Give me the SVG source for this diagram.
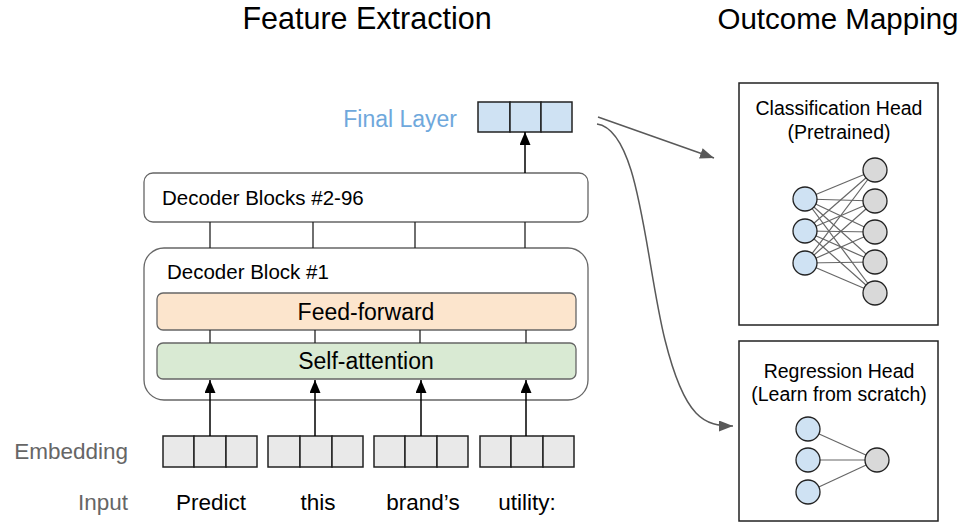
<svg xmlns="http://www.w3.org/2000/svg" width="971" height="523" viewBox="0 0 971 523">
<defs>
<style>
text{font-family:"Liberation Sans",Arial,sans-serif;fill:#000}
.title{text-anchor:middle}
.lbl{font-size:22.5px;fill:#666}
.blk{font-size:20.5px}
.mid{font-size:23px;text-anchor:middle}
.head{font-size:19.5px;text-anchor:middle}
.word{font-size:22.5px;text-anchor:middle}
.dec{fill:#fff;stroke:#666;stroke-width:1.3}
.cell{fill:#e9e9e9;stroke:#222;stroke-width:1.5}
.fcell{fill:#cfe2f3;stroke:#222;stroke-width:1.5}
.up{stroke:#000;stroke-width:1.5;fill:none}
.wire{stroke:#222;stroke-width:1.3}
.gw{stroke:#595959;stroke-width:1.5;fill:none}
.nn{stroke:#666;stroke-width:1.2}
.bn{fill:#cfe2f3;stroke:#222;stroke-width:1.3}
.gn{fill:#d9d9d9;stroke:#222;stroke-width:1.3}
.hbox{fill:#fff;stroke:#222;stroke-width:1.5}
</style>
<marker id="ah" markerUnits="userSpaceOnUse" markerWidth="14" markerHeight="12" refX="13" refY="5.5" orient="auto"><path d="M0,0 L13,5.5 L0,11 z" fill="#000"/></marker>
<marker id="gh" markerUnits="userSpaceOnUse" markerWidth="16" markerHeight="12" refX="14" refY="5.5" orient="auto"><path d="M0,0 L14,5.5 L0,11 z" fill="#595959"/></marker>
</defs>
<rect width="971" height="523" fill="#fff"/>

<text class="title" x="367" y="29" font-size="30.5">Feature Extraction</text>
<text class="title" x="838" y="29" font-size="29.5">Outcome Mapping</text>

<g id="final-layer">
<text x="457" y="127" font-size="23" style="fill:#6fa8dc;text-anchor:end">Final Layer</text>
<rect class="fcell" x="478" y="102" width="32" height="30"/>
<rect class="fcell" x="510" y="102" width="31" height="30"/>
<rect class="fcell" x="541" y="102" width="31" height="30"/>
</g>

<g id="decoder-blocks-2-96">
<rect class="dec" x="144" y="173" width="444" height="49" rx="9"/>
<text class="blk" x="162" y="205">Decoder Blocks #2-96</text>
</g>

<g id="decoder-block-1">
<rect class="dec" x="144" y="248" width="444" height="152" rx="20"/>
<text class="blk" x="167" y="279">Decoder Block #1</text>
</g>

<g id="feed-forward">
<rect x="157" y="293" width="419" height="37" rx="6" fill="#fce5cd" stroke="#666" stroke-width="1.3"/>
<text class="mid" x="366" y="320">Feed-forward</text>
</g>

<g id="self-attention">
<rect x="157" y="343" width="419" height="36" rx="6" fill="#d9ead3" stroke="#666" stroke-width="1.3"/>
<text class="mid" x="366" y="369">Self-attention</text>
</g>

<g id="embedding">
<text class="lbl" x="128" y="459" style="text-anchor:end">Embedding</text>
<rect class="cell" x="163" y="436" width="31" height="31"/><rect class="cell" x="194" y="436" width="32" height="31"/><rect class="cell" x="226" y="436" width="31" height="31"/>
<rect class="cell" x="268" y="436" width="32" height="31"/><rect class="cell" x="300" y="436" width="32" height="31"/><rect class="cell" x="332" y="436" width="31" height="31"/>
<rect class="cell" x="374" y="436" width="31" height="31"/><rect class="cell" x="405" y="436" width="32" height="31"/><rect class="cell" x="437" y="436" width="31" height="31"/>
<rect class="cell" x="480" y="436" width="31" height="31"/><rect class="cell" x="511" y="436" width="32" height="31"/><rect class="cell" x="543" y="436" width="31" height="31"/>
</g>

<g id="input">
<text class="lbl" x="128" y="510" style="text-anchor:end">Input</text>
<text class="word" x="211" y="510">Predict</text>
<text class="word" x="318" y="510">this</text>
<text class="word" x="423" y="510">brand’s</text>
<text class="word" x="527" y="510">utility:</text>
</g>

<g id="classification-head">
<rect class="hbox" x="739" y="83" width="199" height="242"/>
<text class="head" x="839" y="115">Classification Head</text>
<text class="head" x="839" y="139">(Pretrained)</text>
<g class="nn">
<line x1="805" y1="199" x2="875" y2="170"/><line x1="805" y1="199" x2="875" y2="201"/><line x1="805" y1="199" x2="875" y2="232"/><line x1="805" y1="199" x2="875" y2="262"/><line x1="805" y1="199" x2="875" y2="293"/>
<line x1="805" y1="231" x2="875" y2="170"/><line x1="805" y1="231" x2="875" y2="201"/><line x1="805" y1="231" x2="875" y2="232"/><line x1="805" y1="231" x2="875" y2="262"/><line x1="805" y1="231" x2="875" y2="293"/>
<line x1="805" y1="263" x2="875" y2="170"/><line x1="805" y1="263" x2="875" y2="201"/><line x1="805" y1="263" x2="875" y2="232"/><line x1="805" y1="263" x2="875" y2="262"/><line x1="805" y1="263" x2="875" y2="293"/>
</g>
<circle class="bn" cx="805" cy="199" r="12"/><circle class="bn" cx="805" cy="231" r="12"/><circle class="bn" cx="805" cy="263" r="12"/>
<circle class="gn" cx="875" cy="170" r="12"/><circle class="gn" cx="875" cy="201" r="12"/><circle class="gn" cx="875" cy="232" r="12"/><circle class="gn" cx="875" cy="262" r="12"/><circle class="gn" cx="875" cy="293" r="12"/>
</g>

<g id="regression-head">
<rect class="hbox" x="739" y="341" width="199" height="180"/>
<text class="head" x="839" y="378">Regression Head</text>
<text class="head" x="839" y="401">(Learn from scratch)</text>
<g class="nn">
<line x1="808" y1="429" x2="877" y2="460"/><line x1="808" y1="460" x2="877" y2="460"/><line x1="808" y1="492" x2="877" y2="460"/>
</g>
<circle class="bn" cx="808" cy="429" r="12"/><circle class="bn" cx="808" cy="460" r="12"/><circle class="bn" cx="808" cy="492" r="12"/>
<circle class="gn" cx="877" cy="460" r="12"/>
</g>

<g id="connectors">
<line class="up" x1="525" y1="173" x2="525" y2="132" marker-end="url(#ah)"/>
<line class="wire" x1="210" y1="222" x2="210" y2="248"/>
<line class="wire" x1="313" y1="222" x2="313" y2="248"/>
<line class="wire" x1="415" y1="222" x2="415" y2="248"/>
<line class="wire" x1="525" y1="222" x2="525" y2="248"/>
<line class="wire" x1="210" y1="330" x2="210" y2="343"/>
<line class="wire" x1="315" y1="330" x2="315" y2="343"/>
<line class="wire" x1="420" y1="330" x2="420" y2="343"/>
<line class="wire" x1="526" y1="330" x2="526" y2="343"/>
<line class="up" x1="210" y1="436" x2="210" y2="380" marker-end="url(#ah)"/>
<line class="up" x1="315" y1="436" x2="315" y2="380" marker-end="url(#ah)"/>
<line class="up" x1="421" y1="436" x2="421" y2="380" marker-end="url(#ah)"/>
<line class="up" x1="526" y1="436" x2="526" y2="380" marker-end="url(#ah)"/>
<line class="gw" x1="598" y1="117" x2="714" y2="158" marker-end="url(#gh)"/>
<path class="gw" d="M597,124 C640,130 645,260 665,340 C685,420 705,426 733,426" marker-end="url(#gh)"/>
</g>
</svg>
